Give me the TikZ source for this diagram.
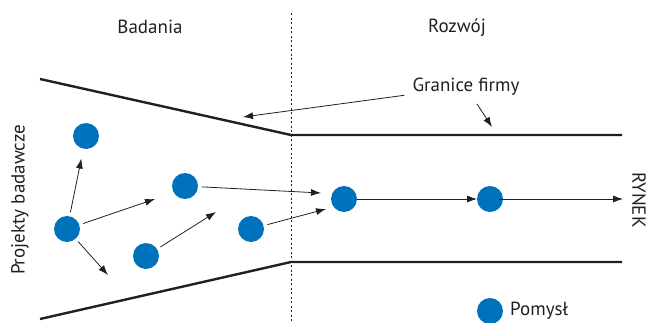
\documentclass[tikz,border=0pt]{standalone}
\usepackage{fontspec}
\setmainfont{PT Sans}
\usetikzlibrary{arrows.meta}
\definecolor{ideablue}{RGB}{0,114,188}
\definecolor{ink}{RGB}{35,31,32}
\tikzset{
  idea/.style={circle,fill=ideablue,draw=none,minimum size=26pt,inner sep=0pt,outer sep=4pt},
  wall/.style={line width=2.4pt,draw=ink},
  arr/.style={line width=0.8pt,draw=ink,-{Latex[length=10pt,width=7pt]}},
  lbl/.style={font=\fontsize{19}{22}\selectfont,text=ink,inner sep=1pt}
}
\begin{document}
\begin{tikzpicture}[x=1pt,y=-1pt]
\useasboundingbox (0,0) rectangle (649,322);
% phase divider
\draw[ink,line width=0.7pt,dash pattern=on 2pt off 2.5pt] (291,13) -- (291,322);
% company boundaries
\draw[wall] (40,79) -- (291,135) -- (622,135);
\draw[wall] (40,319) -- (291,262) -- (622,262);
% labels
\node[lbl] (bad) at (150,27) {Badania};
\node[lbl] (roz) at (457,28) {Rozwój};
\node[lbl,rotate=90] (proj) at (20,200) {Projekty badawcze};
\node[lbl,rotate=-90] (ryn) at (639,200) {RYNEK};
\node[lbl,inner sep=8pt] (gran) at (466,87) {Granice firmy};
% ideas
\node[idea] (c1) at (86,136) {};
\node[idea] (c2) at (67,229) {};
\node[idea] (c3) at (185,186) {};
\node[idea] (c4) at (146,256) {};
\node[idea] (c5) at (251,229) {};
\node[idea] (c6) at (344,199) {};
\node[idea,outer sep=0pt] (c7) at (490,199) {};
\node[idea] (leg) at (490,311) {};
\node[lbl,anchor=west] (legt) at (509,311) {Pomysł};
% free arrow ends
\coordinate (a1) at (155,199);
\coordinate (a2) at (108,275);
\coordinate (a3) at (216,212);
\coordinate (a4) at (321,193);
\coordinate (a5) at (326,209);
\coordinate (mkt) at (623,199);
\coordinate (t1) at (243,117);
\coordinate (t2) at (492,127);
% arrows
\draw[arr,shorten >=6pt] (c2) -- (c1);
\draw[arr] (c2) -- (a1);
\draw[arr] (c2) -- (a2);
\draw[arr] (c4) -- (a3);
\draw[arr] (c3) -- (a4);
\draw[arr] (c5) -- (a5);
\draw[arr,shorten <=-4pt] (c6) -- (c7);
\draw[arr,shorten <=-4pt] (c7) -- (mkt);
\draw[arr] (gran) -- (t1);
\draw[arr] (gran) -- (t2);
\end{tikzpicture}
\end{document}
